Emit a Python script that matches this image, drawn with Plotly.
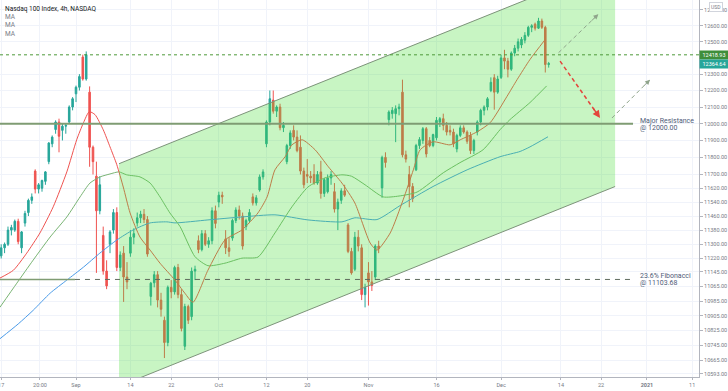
import math
import plotly.graph_objects as go

# ---------------- data (4h bars) ----------------
open_ = [11235, 11280, 11300, 11380, 11380, 11430, 11280, 11420, 11480, 11550,
         11720, 11615, 11620, 11660, 11775, 11880, 11965, 12010, 11960, 11985,
         12010, 12100, 12180, 12220, 12405, 12270, 12190, 11860, 11690, 11490,
         11350, 11150, 11300, 11380, 11480, 11170, 11250, 11117, 11250, 11340,
         11420, 11450, 11470, 11440, 11010, 11085, 11130, 10990, 10880, 10760,
         11060, 11035, 11170, 11020, 10740, 10955, 10900, 11150, 11320, 11270,
         11360, 11300, 11320, 11490, 11540, 11580, 11330, 11280, 11335, 11435,
         11495, 11460, 11400, 11435, 11570, 11535, 11610, 11686, 11880, 12010,
         12142, 12075, 12100, 11976, 11775, 11870, 11960, 11920, 11860, 11720,
         11700, 11690, 11700, 11650, 11715, 11590, 11600, 11680, 11600, 11500,
         11550, 11605, 11409, 11260, 11160, 11340, 11280, 11020, 11140, 11090,
         11117, 11290, 11622, 11800, 12024, 12060, 12060, 12090, 12190, 11815,
         11700, 11630, 11727, 11870, 11900, 11970, 11900, 11870, 11916, 12010,
         12030, 11990, 11960, 11950, 11850, 11930, 11975, 11950, 11930, 11840,
         11950, 12010, 12080, 12100, 12200, 12278, 12190, 12280, 12400, 12380,
         12330, 12430, 12460, 12480, 12510, 12540, 12590, 12610, 12585, 12630,
         12590, 12359]
high = [11300, 11310, 11400, 11410, 11440, 11445, 11375, 11490, 11560, 11590,
        11730, 11650, 11670, 11720, 11890, 11930, 12020, 12030, 12000, 12000,
        12110, 12160, 12230, 12300, 12420, 12440, 12225, 11870, 11775, 11690,
        11400, 11210, 11380, 11500, 11510, 11260, 11290, 11200, 11380, 11390,
        11480, 11490, 11500, 11460, 11090, 11150, 11150, 11030, 10900, 11070,
        11100, 11180, 11190, 11050, 10970, 10965, 11170, 11180, 11350, 11380,
        11380, 11340, 11510, 11520, 11600, 11600, 11380, 11340, 11445, 11510,
        11520, 11480, 11445, 11500, 11590, 11580, 11700, 11730, 12020, 12200,
        12200, 12110, 12120, 12010, 11880, 11960, 11990, 11960, 11930, 11740,
        11790, 11720, 11760, 11720, 11780, 11680, 11700, 11720, 11650, 11560,
        11620, 11640, 11420, 11280, 11370, 11380, 11300, 11080, 11200, 11150,
        11300, 11320, 11810, 11830, 12080, 12100, 12110, 12120, 12266, 11840,
        11750, 11650, 11880, 11920, 11980, 11980, 11920, 11940, 12040, 12040,
        12060, 12010, 11990, 11970, 11940, 11990, 11990, 11960, 11950, 11910,
        12020, 12090, 12110, 12160, 12280, 12300, 12290, 12420, 12450, 12400,
        12440, 12480, 12520, 12530, 12560, 12600, 12610, 12620, 12650, 12645,
        12600, 12375]
low = [11220, 11250, 11290, 11350, 11370, 11300, 11250, 11400, 11460, 11530,
       11590, 11590, 11600, 11640, 11760, 11860, 11940, 11830, 11900, 11940,
       12000, 12080, 12130, 12200, 12260, 12260, 11745, 11700, 11140, 11470,
       11130, 11050, 11250, 11360, 11150, 11150, 10980, 11050, 11230, 11300,
       11400, 11420, 11420, 11230, 10960, 11060, 10950, 10900, 10677, 10740,
       11000, 11020, 11000, 10820, 10720, 10860, 10880, 11100, 11250, 11260,
       11290, 11280, 11300, 11390, 11510, 11530, 11245, 11230, 11320, 11420,
       11440, 11270, 11380, 11420, 11520, 11520, 11600, 11670, 11860, 11990,
       12060, 12040, 11960, 11950, 11760, 11850, 11900, 11830, 11700, 11620,
       11650, 11650, 11640, 11640, 11560, 11570, 11590, 11640, 11480, 11380,
       11530, 11570, 11250, 11130, 11150, 11260, 10990, 10950, 10960, 11040,
       11100, 11250, 11565, 11740, 11990, 12030, 11890, 12050, 11800, 11770,
       11510, 11540, 11720, 11850, 11880, 11800, 11860, 11860, 11900, 11980,
       11960, 11930, 11930, 11860, 11830, 11920, 11940, 11880, 11820, 11820,
       11930, 11990, 12050, 12080, 12190, 12084, 12180, 12270, 12330, 12280,
       12320, 12410, 12440, 12460, 12490, 12530, 12560, 12570, 12580, 12580,
       12310, 12340]
close = [11280, 11300, 11380, 11395, 11430, 11315, 11370, 11475, 11550, 11570,
         11615, 11640, 11665, 11715, 11885, 11920, 12010, 11925, 11985, 11990,
         12100, 12150, 12220, 12285, 12270, 12420, 11860, 11775, 11490, 11640,
         11150, 11068, 11370, 11480, 11170, 11240, 11117, 11090, 11340, 11360,
         11450, 11470, 11440, 11245, 11083, 11130, 10990, 10940, 10760, 11060,
         11035, 11170, 11020, 10836, 10955, 10880, 11150, 11160, 11270, 11360,
         11300, 11320, 11490, 11418, 11580, 11570, 11280, 11260, 11435, 11495,
         11460, 11290, 11435, 11480, 11535, 11565, 11686, 11715, 12010, 12150,
         12075, 12100, 11976, 11990, 11870, 11945, 11920, 11840, 11720, 11640,
         11690, 11680, 11650, 11700, 11590, 11670, 11680, 11700, 11500, 11540,
         11605, 11580, 11260, 11140, 11340, 11290, 11020, 11060, 11090, 11070,
         11290, 11275, 11800, 11770, 12070, 12080, 12090, 12100, 11815, 11790,
         11630, 11560, 11870, 11905, 11970, 11820, 11870, 11935, 12020, 12030,
         11990, 11950, 11950, 11880, 11930, 11975, 11950, 11895, 11840, 11900,
         12010, 12080, 12100, 12150, 12250, 12190, 12270, 12400, 12380, 12330,
         12430, 12460, 12500, 12515, 12540, 12590, 12600, 12585, 12630, 12590,
         12359, 12364.64]

# moving averages, sampled along the drawn curves (bar position, value)
ma_fast_bars = [-0.4, 3.6, 7.5, 11.4, 15.3, 19.3, 22.2, 24.2, 25.9, 27.6, 30, 32, 34,
                35.9, 37.9, 40.8, 43.8, 46.7, 51.1, 54, 56.4, 60.8, 65.8, 70.8, 75.5,
                78.2, 80.5, 83.5, 85.5, 88.5, 92.3, 96.2, 100.2, 104, 108.5, 110.5,
                114.4, 118.2, 121.2, 123.2, 127, 132, 135, 140, 143.8, 148.7, 151.7,
                155.5, 160]
ma_fast_vals = [11111, 11155, 11250, 11364, 11513, 11715, 11904, 12006, 12072, 12054,
                11964, 11862, 11757, 11627, 11478, 11341, 11267, 11194, 11100, 11028,
                10978, 11155, 11324, 11381, 11478, 11570, 11727, 11804, 11874, 11904,
                11845, 11745, 11650, 11535, 11307, 11267, 11364, 11553, 11727, 11845,
                11892, 11874, 11904, 11952, 12006, 12163, 12266, 12390, 12515]
ma_mid_bars = [-0.4, 4.6, 9.4, 14.4, 19.3, 23.2, 26.1, 29.1, 32, 34.6, 36.9, 40.8, 43.8,
               46.7, 49.6, 52.6, 57, 60.8, 65.8, 70.8, 75.5, 80.5, 85.5, 90.2, 95.2,
               100.2, 103, 107, 112.3, 117, 122.3, 130, 134.9, 141.7, 146.7, 149.6,
               155.5, 160.4]
ma_mid_vals = [10950, 11083, 11211, 11341, 11455, 11570, 11650, 11686, 11703, 11715,
               11698, 11686, 11650, 11570, 11478, 11400, 11230, 11180, 11194, 11222,
               11228, 11364, 11513, 11627, 11680, 11698, 11690, 11640, 11570, 11575,
               11598, 11710, 11769, 11845, 11964, 12024, 12127, 12228]
ma_slow_bars = [-0.4, 5, 9.4, 14.4, 19.3, 24.2, 29, 34, 38.8, 43.8, 48.7, 51.1, 60.8,
                70.8, 80.5, 90.2, 100.2, 104, 110.5, 117.3, 127, 137, 146.7, 152.6,
                155.5, 160.8]
ma_slow_vals = [10780, 10860, 10934, 11028, 11100, 11172, 11250, 11324, 11381, 11421,
                11427, 11421, 11438, 11455, 11467, 11438, 11427, 11450, 11440, 11520,
                11630, 11727, 11804, 11835, 11862, 11922]

# axis labels
x_tick_bars = [0, 11.4, 22, 38, 50, 64, 78, 90, 108, 128, 147, 164.6, 176.4, 189.9, 203.2]
x_tick_text = ["17", "20:00", "Sep", "14", "22", "Oct", "12", "20", "Nov", "16", "Dec",
               "14", "22", "<b>2021</b>", "11"]
y_tick_vals = [10593, 10665, 10745, 10825, 10905, 10985, 11065, 11145, 11220, 11300,
               11380, 11460, 11540, 11620, 11700, 11800, 11900, 12000, 12100, 12200,
               12300, 12500, 12600, 12700]

# key levels
last_price = 12364.64
prev_high = 12418.93
resistance = 12000.00
fib_level = 11103.68

# drawing anchors (bar position, price)
channel_bars = [34.65, 180.53]
channel_upper = [11763, 12994]
channel_lower = [10528, 11630]
level_start, level_split, level_end = -0.35, 21.7, 185.8
arrow_down = ([164.35, 176.1], [12380, 12034])
arrow_up_1 = ([163.9, 175.6], [12432, 12673])
arrow_up_2 = ([179.6, 190.8], [12034, 12266])

X_RANGE = [-0.35, 205.2]
Y_RANGE = [4.02435, 4.10595]
FONT = "Roboto, Arial, sans-serif"

bars = list(range(len(close)))
fig = go.Figure()

fig.add_trace(go.Candlestick(
    x=bars, open=open_, high=high, low=low, close=close,
    increasing=dict(line=dict(color="#26a69a", width=1), fillcolor="#26a69a"),
    decreasing=dict(line=dict(color="#ef5350", width=1), fillcolor="#ef5350"),
    whiskerwidth=0, showlegend=False, hoverinfo="skip"))

for xs, ys, col in [(ma_slow_bars, ma_slow_vals, "#4a9be8"),
                    (ma_mid_bars, ma_mid_vals, "#79b473"),
                    (ma_fast_bars, ma_fast_vals, "#ef5350")]:
    fig.add_trace(go.Scatter(x=xs, y=ys, mode="lines",
                             line=dict(color=col, width=1, shape="spline", smoothing=0.6),
                             showlegend=False, hoverinfo="skip"))

# channel fill (drawn above candles, translucent)
fig.add_trace(go.Scatter(
    x=[channel_bars[0], channel_bars[1], channel_bars[1], channel_bars[0]],
    y=[channel_upper[0], channel_upper[1], channel_lower[1], channel_lower[0]],
    mode="lines", fill="toself", fillcolor="rgba(72,222,55,0.30)",
    line=dict(width=0), showlegend=False, hoverinfo="skip"))
for ys in (channel_upper, channel_lower):
    fig.add_trace(go.Scatter(x=channel_bars, y=ys, mode="lines",
                             line=dict(color="#7d937a", width=1),
                             showlegend=False, hoverinfo="skip"))

# horizontal levels
fig.add_trace(go.Scatter(x=[X_RANGE[0], X_RANGE[1]], y=[prev_high, prev_high], mode="lines",
                         line=dict(color="#4e9a3a", width=1, dash="dot"),
                         showlegend=False, hoverinfo="skip"))
fig.add_trace(go.Scatter(x=[level_start, level_end], y=[resistance, resistance], mode="lines",
                         line=dict(color="#7f9c73", width=2),
                         showlegend=False, hoverinfo="skip"))
fig.add_trace(go.Scatter(x=[level_start, level_split], y=[fib_level, fib_level], mode="lines",
                         line=dict(color="#7f9c73", width=1.5),
                         showlegend=False, hoverinfo="skip"))
fig.add_trace(go.Scatter(x=[level_split, level_end], y=[fib_level, fib_level], mode="lines",
                         line=dict(color="#5f6b5d", width=1, dash="5px,5px"),
                         showlegend=False, hoverinfo="skip"))

# scenario arrows
for (xs, ys), col, w in [(arrow_down, "#e3463c", 1.5), (arrow_up_1, "#8fa48b", 1),
                         (arrow_up_2, "#8fa48b", 1)]:
    fig.add_trace(go.Scatter(x=xs, y=ys, mode="lines",
                             line=dict(color=col, width=w, dash="4px,3px"),
                             showlegend=False, hoverinfo="skip"))
    tail_x = xs[1] - 0.2 * (xs[1] - xs[0])
    tail_y = math.log10(ys[1]) - 0.2 * (math.log10(ys[1]) - math.log10(ys[0]))
    fig.add_annotation(x=xs[1], y=math.log10(ys[1]), ax=tail_x, ay=tail_y,
                       xref="x", yref="y", axref="x", ayref="y", text="",
                       showarrow=True, arrowhead=2, arrowsize=1, arrowwidth=w,
                       arrowcolor=col)

# text labels
def label(txt, bar, price, dy_px, size=7):
    fig.add_annotation(x=bar, y=math.log10(price), xref="x", yref="y", text=txt,
                       showarrow=False, xanchor="left", yanchor="middle", yshift=-dy_px,
                       font=dict(family=FONT, size=size, color="#4f5b78"))

label("Major Resistance", 187.3, resistance, -3)
label("@ 12000.00", 187.3, resistance, 4)
label("23.6% Fibonacci", 187.3, fib_level, -3)
label("@ 11103.68", 187.3, fib_level, 4)

# price tags on the axis
for price, bg in [(prev_high, "#3e8e3b"), (last_price, "#26a69a")]:
    fig.add_annotation(x=1, xref="paper", xanchor="left", y=math.log10(price), yref="y",
                       text=f"{price:.2f}", showarrow=False, bgcolor=bg, borderpad=1,
                       width=26, font=dict(family=FONT, size=5.5, color="white"))

fig.add_annotation(x=1, xref="paper", xshift=10, xanchor="left", y=1, yref="paper",
                   yshift=-2, yanchor="top", text="USD", showarrow=False,
                   bgcolor="white", bordercolor="#d1d4dc", borderwidth=1, borderpad=1,
                   font=dict(family=FONT, size=5, color="#787b86"))

# legend text top-left
fig.add_annotation(x=0.004, y=1, xref="paper", yref="paper", yshift=-3, xanchor="left",
                   yanchor="top", text="Nasdaq 100 Index, 4h, NASDAQ", showarrow=False,
                   font=dict(family=FONT, size=6.5, color="#131722"))
for i in range(3):
    fig.add_annotation(x=0.004, y=1, xref="paper", yref="paper", yshift=-11 - 8.3 * i,
                       xanchor="left", yanchor="top", text="MA", showarrow=False,
                       font=dict(family=FONT, size=6.5, color="#787b86"))

fig.update_layout(
    width=728, height=391,
    margin=dict(l=0, r=29, t=0, b=14),
    paper_bgcolor="white", plot_bgcolor="white",
    showlegend=False, boxgap=0.35,
    font=dict(family=FONT),
    xaxis=dict(range=X_RANGE, tickvals=x_tick_bars, ticktext=x_tick_text,
               showgrid=True, gridcolor="#f0f3fa", gridwidth=1, zeroline=False,
               showline=True, linecolor="#b2b5be", linewidth=1, ticks="outside",
               ticklen=2, tickcolor="#b2b5be", ticklabeloverflow="allow",
               tickfont=dict(family=FONT, size=5.5, color="#787b86"),
               rangeslider=dict(visible=False), fixedrange=True, automargin=False),
    yaxis=dict(type="log", range=Y_RANGE, side="right", tickvals=y_tick_vals,
               ticktext=[f"{v:.2f}" for v in y_tick_vals],
               showgrid=True, gridcolor="#f0f3fa", gridwidth=1, zeroline=False,
               showline=True, linecolor="#b2b5be", linewidth=1, ticks="outside",
               ticklen=3, tickcolor="#b2b5be", ticklabeloverflow="allow",
               tickfont=dict(family=FONT, size=5.5, color="#787b86"),
               fixedrange=True, automargin=False),
)

fig.write_html("out.html", config={"displayModeBar": False},
               post_script="document.body.style.margin='0';document.body.style.padding='0';")
